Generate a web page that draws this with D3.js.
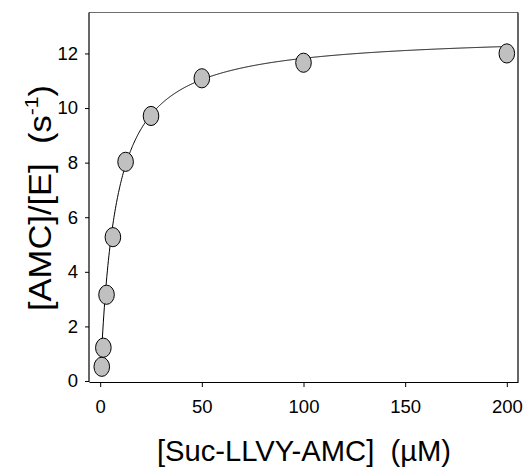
<!DOCTYPE html>
<html>
<head>
<meta charset="utf-8">
<script src="https://cdn.jsdelivr.net/npm/d3@7"></script>
<style>
  html, body { margin: 0; padding: 0; background: #fff; }
  svg { display: block; }
  text { font-family: "Liberation Sans", Arial, sans-serif; fill: #000; white-space: pre; }
</style>
</head>
<body>
<svg id="chart" width="526" height="476"></svg>
<script>
// Substrate concentrations (µM)
const substrate = [0.78, 1.56, 3.125, 6.25, 12.5, 25, 50, 100, 200];
// Observed rates [AMC]/[E] (s^-1)
const rate = [0.52, 1.22, 3.16, 5.27, 8.03, 9.71, 11.09, 11.66, 12.0];
// Michaelis–Menten fit parameters (as drawn)
const kcat = 12.72;
const Km = 7.6;
// Ticks
const xTicks = [0, 50, 100, 150, 200];
const yTicks = [0, 2, 4, 6, 8, 10, 12];

const svg = d3.select("#chart");
const pLeft = 89, pRight = 518, pTop = 12.5, pBottom = 382;

const x = d3.scaleLinear().domain([-5.5, 205.5]).range([pLeft, pRight]);
const y = d3.scaleLinear().domain([0, 13.5]).range([381, pTop]);

// frame top & right
svg.append("line").attr("x1", pLeft).attr("x2", pRight).attr("y1", pTop).attr("y2", pTop)
  .attr("stroke", "#6e6e6e").attr("stroke-width", 1.2);
svg.append("line").attr("x1", pRight).attr("x2", pRight).attr("y1", pTop).attr("y2", pBottom)
  .attr("stroke", "#000").attr("stroke-width", 1.2);

// x axis
const xAxis = d3.axisBottom(x).tickValues(xTicks).tickSize(5).tickPadding(13).tickSizeOuter(0);
const gx = svg.append("g").attr("transform", `translate(0,${pBottom})`).call(xAxis);
gx.select(".domain").attr("stroke-width", 1.2);
gx.selectAll(".tick line").attr("stroke-width", 1);
gx.selectAll("text").attr("font-size", 18.5).attr("font-family", "Liberation Sans, Arial, sans-serif");

// y axis
const yAxis = d3.axisLeft(y).tickValues(yTicks).tickSize(4).tickPadding(7).tickSizeOuter(0);
const gy = svg.append("g").attr("transform", `translate(${pLeft},0)`).call(yAxis);
gy.select(".domain").attr("d", `M0,${pBottom}V${pTop}`).attr("stroke-width", 1.2);
gy.selectAll(".tick line").attr("stroke-width", 1);
gy.selectAll("text").attr("font-size", 18.5).attr("font-family", "Liberation Sans, Arial, sans-serif");

// fitted curve
const curveX = d3.range(substrate[0], 200.01, 0.25);
const line = d3.line().x(d => x(d)).y(d => y(kcat * d / (Km + d)));
svg.append("path").datum(curveX).attr("d", line)
  .attr("fill", "none").attr("stroke", "#000").attr("stroke-width", 1);

// points
svg.append("g").selectAll("ellipse").data(substrate).join("ellipse")
  .attr("cx", d => x(d)).attr("cy", (d, i) => y(rate[i]))
  .attr("rx", 7.8).attr("ry", 9.6)
  .attr("fill", "#c0c0c0").attr("stroke", "#000").attr("stroke-width", 1);

// x label
svg.append("text").attr("x", 304).attr("y", 461).attr("text-anchor", "middle")
  .attr("font-size", 30).attr("textLength", 294).attr("lengthAdjust", "spacingAndGlyphs")
  .text("[Suc-LLVY-AMC]  (µM)");

// y label
const yl = svg.append("text").attr("transform", "translate(51,198) rotate(-90)")
  .attr("text-anchor", "middle").attr("font-size", 31)
  .attr("textLength", 226).attr("lengthAdjust", "spacingAndGlyphs");
yl.append("tspan").text("[AMC]/[E]  (s");
yl.append("tspan").attr("font-size", 19).attr("dy", -13).text("-1");
yl.append("tspan").attr("dy", 13).text(")");
</script>
</body>
</html>
